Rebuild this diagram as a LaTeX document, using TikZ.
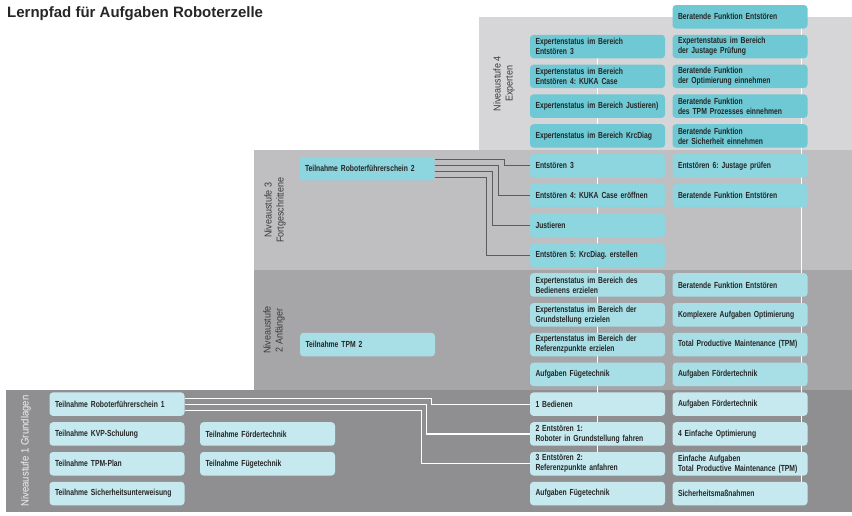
\documentclass[tikz,border=0pt]{standalone}
\usepackage{fontspec}
\setmainfont{Liberation Sans}
\newfontfamily\boxfont[FakeStretch=0.77]{Liberation Sans}
\newfontfamily\lvlfont[FakeStretch=0.9]{Liberation Sans}
\usetikzlibrary{backgrounds}
\frenchspacing
\definecolor{bandvier}{HTML}{D6D6D8}
\definecolor{banddrei}{HTML}{BFBFC2}
\definecolor{bandzwei}{HTML}{A6A6A9}
\definecolor{bandeins}{HTML}{8F8F92}
\definecolor{tuerkisvier}{HTML}{6EC9D4}
\definecolor{tuerkisdrei}{HTML}{8DD5DF}
\definecolor{tuerkiszwei}{HTML}{A8DEE6}
\definecolor{tuerkiseins}{HTML}{C5E9EF}
\definecolor{schrift}{HTML}{262626}
\definecolor{liniegrau}{HTML}{5C5C5E}
\tikzset{
  kasten/.style={rectangle, rounded corners=3.5pt, minimum height=23.5pt,
    text width=124pt, inner xsep=5.5pt, inner ysep=0pt, align=left, text=schrift,
    font=\boxfont\bfseries\fontsize{8.8}{10}\selectfont},
  kvier/.style={kasten, fill=tuerkisvier},
  kdrei/.style={kasten, fill=tuerkisdrei},
  kzwei/.style={kasten, fill=tuerkiszwei},
  keins/.style={kasten, fill=tuerkiseins},
  stufe/.style={rotate=90, align=center, inner sep=0pt, text=schrift!90!white,
    font=\lvlfont\fontsize{10}{12}\selectfont},
  pfad/.style={draw=liniegrau, line width=0.9pt},
  pfadweiss/.style={draw=white, line width=1.3pt},
  leiter/.style={draw=white, line width=1.4pt},
}
\begin{document}
\begin{tikzpicture}[x=1pt,y=-1pt]
\useasboundingbox (0,0) rectangle (852,515);
%\draw[step=50,gray,very thin] (0,0) grid (852,515);
% Stufen
\begin{scope}[on background layer]
\fill[bandvier] (479,17) rectangle (852,150);
\fill[banddrei] (254,150) rectangle (852,270);
\fill[bandzwei] (254,270) rectangle (852,389.5);
\fill[bandeins] (6,389.5) rectangle (852,512);
\end{scope}
\node[anchor=base west, inner sep=0pt, text=schrift, font=\bfseries\fontsize{15}{18}\selectfont] (titel) at (7,17.5) {Lernpfad für Aufgaben Roboterzelle};
\node[stufe] (stufevier) at (504,83.5) {Niveaustufe 4\\Experten};
\node[stufe] (stufedrei) at (275,210) {Niveaustufe 3\\Fortgeschrittene};
\node[stufe] (stufezwei) at (274,330) {Niveaustufe\\2 Anfänger};
\node[stufe, text=white!88!gray, font=\lvlfont\fontsize{10.6}{12}\selectfont] (stufeeins) at (26,451) {Niveaustufe 1 Grundlagen};
% Niveaustufe 4
\node[kvier] (berEntvier) at (740,16.75) {Beratende Funktion Entstören};
\node[kvier] (exEnt) at (597.5,46.55) {Expertenstatus im Bereich\\Entstören 3};
\node[kvier] (exKuka) at (597.5,76.35) {Expertenstatus im Bereich\\Entstören 4: KUKA Case};
\node[kvier] (exJust) at (597.5,106.15) {Expertenstatus im Bereich Justieren)};
\node[kvier] (exKrc) at (597.5,135.95) {Expertenstatus im Bereich KrcDiag};
\node[kvier] (exJustage) at (740,46.55) {Expertenstatus im Bereich\\der Justage Prüfung};
\node[kvier] (berOpt) at (740,76.35) {Beratende Funktion\\der Optimierung einnehmen};
\node[kvier] (berTpm) at (740,106.15) {Beratende Funktion\\des TPM Prozesses einnehmen};
\node[kvier] (berSich) at (740,135.95) {Beratende Funktion\\der Sicherheit einnehmen};
% Niveaustufe 3
\node[kdrei] (rfzwei) at (367,168.6) {Teilnahme Roboterführerschein 2};
\node[kdrei] (ent3) at (597.5,165.75) {Entstören 3};
\node[kdrei] (ent4) at (597.5,195.55) {Entstören 4: KUKA Case eröffnen};
\node[kdrei] (just) at (597.5,225.35) {Justieren};
\node[kdrei] (ent5) at (597.5,255.15) {Entstören 5: KrcDiag. erstellen};
\node[kdrei] (ent6) at (740,165.75) {Entstören 6: Justage prüfen};
\node[kdrei] (berEntdrei) at (740,195.55) {Beratende Funktion Entstören};
% Niveaustufe 2
\node[kzwei] (tpmzwei) at (367.5,344.55) {Teilnahme TPM 2};
\node[kzwei] (exBed) at (597.5,284.95) {Expertenstatus im Bereich des\\Bedienens erzielen};
\node[kzwei] (exGrund) at (597.5,314.75) {Expertenstatus im Bereich der\\Grundstellung erzielen};
\node[kzwei] (exRef) at (597.5,344.55) {Expertenstatus im Bereich der\\Referenzpunkte erzielen};
\node[kzwei] (fuegezwei) at (597.5,374.35) {Aufgaben Fügetechnik};
\node[kzwei] (berEntzwei) at (740,284.95) {Beratende Funktion Entstören};
\node[kzwei] (kompOpt) at (740,314.75) {Komplexere Aufgaben Optimierung};
\node[kzwei] (tpm) at (740,344.55) {Total Productive Maintenance (TPM)};
\node[kzwei] (foerderzwei) at (740,374.35) {Aufgaben Fördertechnik};
% Niveaustufe 1
\node[keins] (rfeins) at (117,404.15) {Teilnahme Roboterführerschein 1};
\node[keins] (kvp) at (117,433.95) {Teilnahme KVP-Schulung};
\node[keins] (tpmPlan) at (117,463.75) {Teilnahme TPM-Plan};
\node[keins] (sicher) at (117,493.55) {Teilnahme Sicherheitsunterweisung};
\node[keins] (tfoerder) at (267.5,433.95) {Teilnahme Fördertechnik};
\node[keins] (tfuege) at (267.5,463.75) {Teilnahme Fügetechnik};
\node[keins] (bed) at (597.5,404.15) {1 Bedienen};
\node[keins] (ent1) at (597.5,433.95) {2 Entstören 1:\\Roboter in Grundstellung fahren};
\node[keins] (ent2) at (597.5,463.75) {3 Entstören 2:\\Referenzpunkte anfahren};
\node[keins] (fuegeeins) at (597.5,493.55) {Aufgaben Fügetechnik};
\node[keins] (foerdereins) at (740,404.15) {Aufgaben Fördertechnik};
\node[keins] (opt) at (740,433.95) {4 Einfache Optimierung};
\node[keins] (einfTpm) at (740,463.75) {Einfache Aufgaben\\Total Productive Maintenance (TPM)};
\node[keins] (massn) at (740,493.55) {Sicherheitsmaßnahmen};
% Leitlinien hinter den Kaesten
\begin{scope}[on background layer]
\draw[leiter] (exEnt.center) -- (ent2.center);
\draw[leiter] ([xshift=-6pt]berEntvier.east) -- ([xshift=-6pt]massn.east);
\end{scope}
% Pfade
\draw[pfad] ([yshift=9pt]rfzwei.east) -| ([xshift=-25pt]ent3.west) -- (ent3.west);
\draw[pfad] ([yshift=3pt]rfzwei.east) -| ([xshift=-31pt]ent4.west) -- (ent4.west);
\draw[pfad] ([yshift=-3pt]rfzwei.east) -| ([xshift=-37pt]just.west) -- (just.west);
\draw[pfad] ([yshift=-9pt]rfzwei.east) -| ([xshift=-43pt]ent5.west) -- (ent5.west);
\draw[pfadweiss] ([yshift=6pt]rfeins.east) -| ([xshift=-98pt]bed.west) -- (bed.west);
\draw[pfadweiss] (rfeins.east) -| ([xshift=-103pt]ent1.west) -- (ent1.west);
\draw[pfadweiss] ([yshift=-6pt]rfeins.east) -| ([xshift=-108pt]ent2.west) -- (ent2.west);
\end{tikzpicture}
\end{document}
